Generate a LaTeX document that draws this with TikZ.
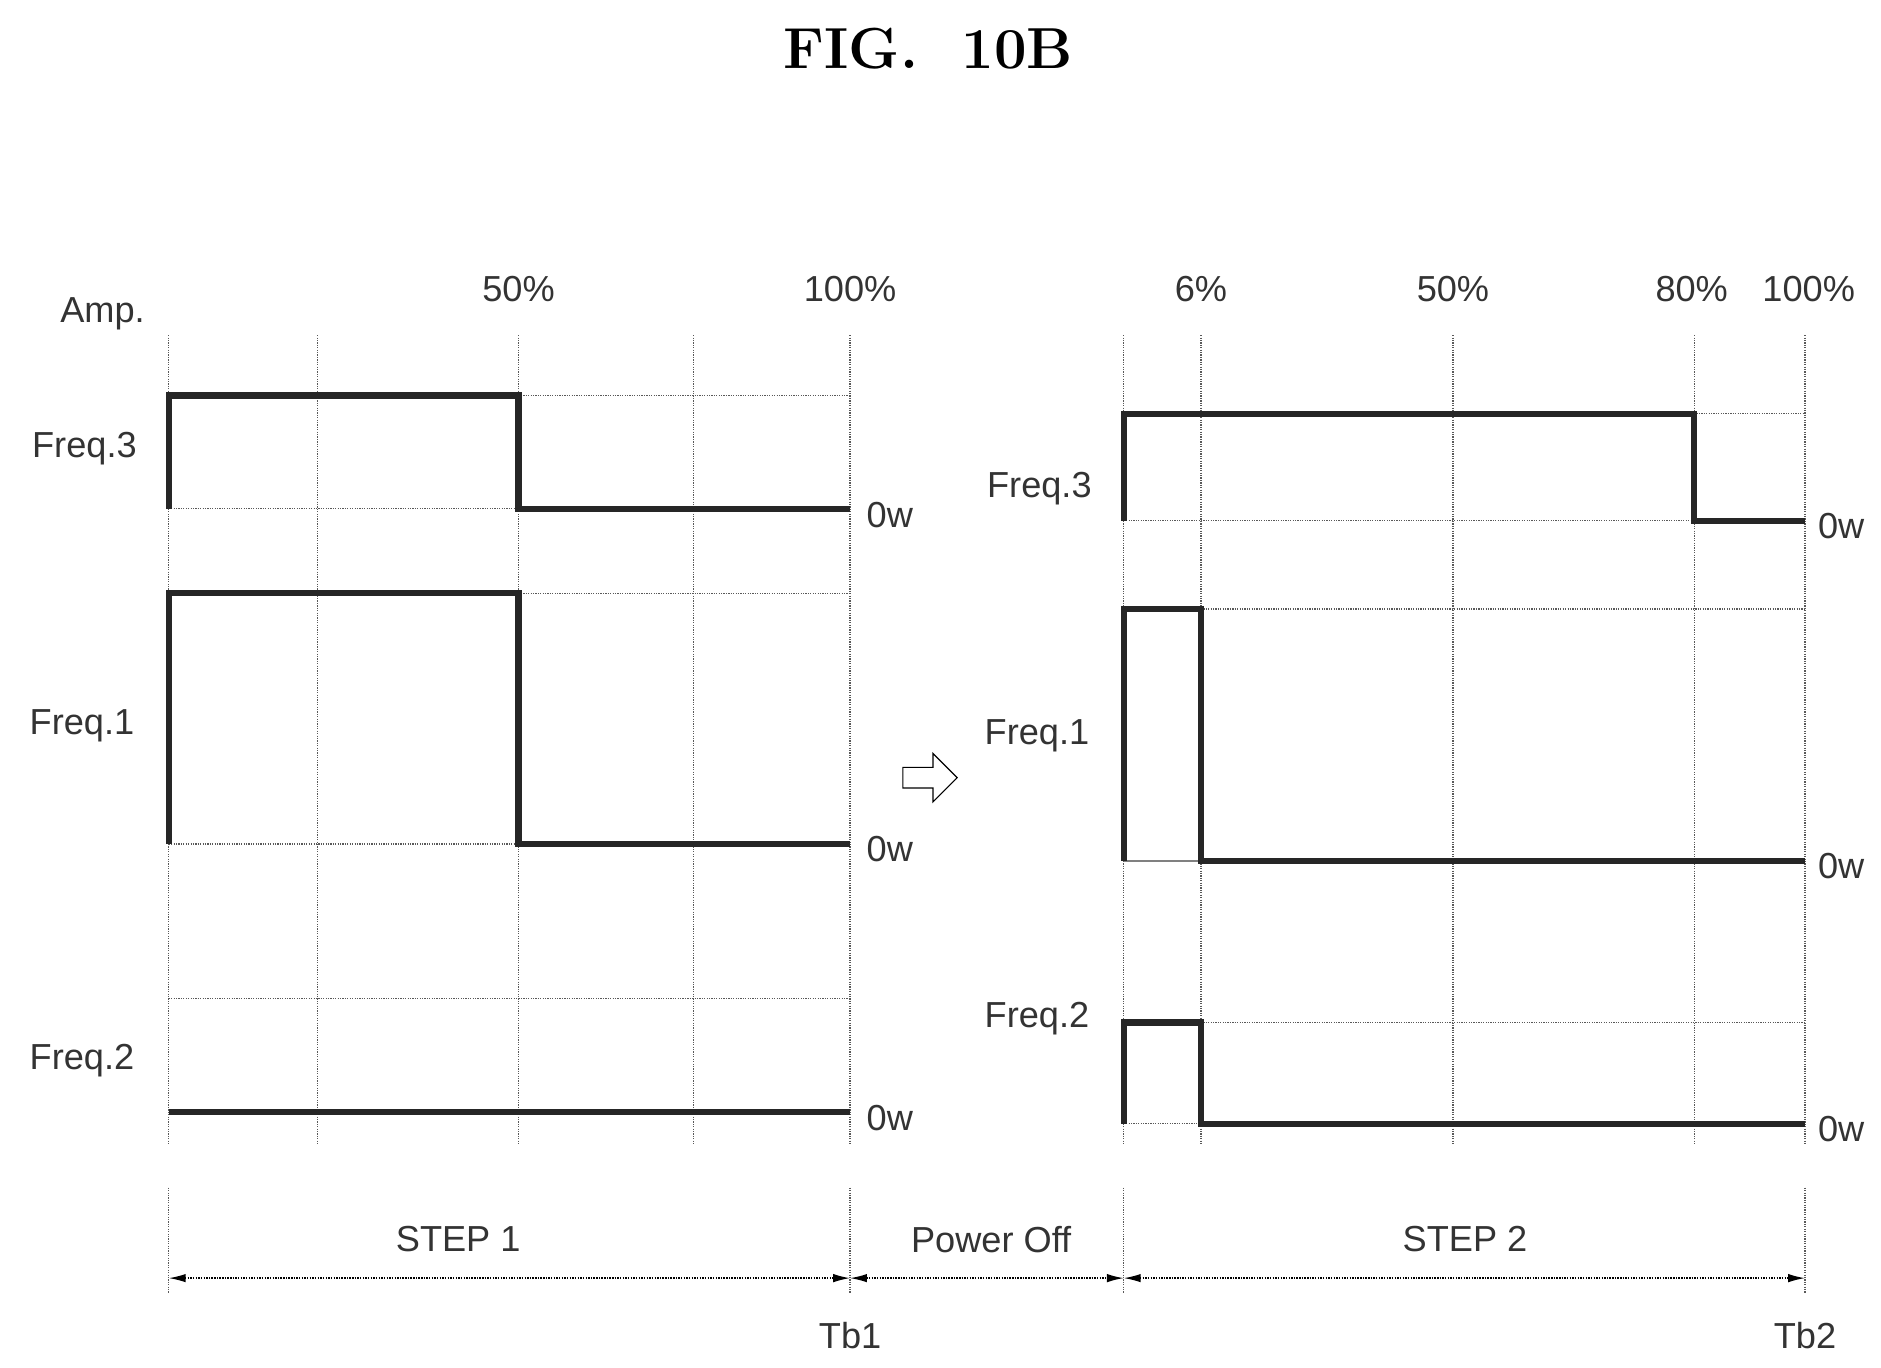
\documentclass[tikz,border=0pt]{standalone}
\usepackage{fontspec}
\setsansfont{Liberation Sans}
\usetikzlibrary{arrows.meta,shapes.arrows}
\begin{document}
\begin{tikzpicture}[x=1pt,y=-1pt,
  grid/.style={densely dotted,line width=1pt,gray!70!black},
  sig/.style={line width=5pt,black!85,line join=miter},
  lbl/.style={font=\sffamily\fontsize{30}{32}\selectfont,text=black!80},
  dim/.style={densely dotted,line width=1.2pt,{Latex[length=14pt,width=7pt]}-{Latex[length=14pt,width=7pt]}}]
\useasboundingbox (0,0) rectangle (1560,1134);
\node[font=\rmfamily\bfseries\fontsize{48}{50}\selectfont] (title) at (770,40) {FIG.\ \ 10B};
% left grid
\foreach \x in {140,263,430,575,705} \draw[grid] (\x,278) -- (\x,950);
\draw[grid] (430,328) -- (705,328);
\draw[grid] (140,422) -- (430,422);
\draw[grid] (430,492) -- (705,492);
\draw[grid] (140,700) -- (430,700);
\draw[grid] (140,828) -- (705,828);
\draw[sig] (140,422) -- (140,328) -- (430,328) -- (430,422) -- (705,422);
\draw[sig] (140,700) -- (140,492) -- (430,492) -- (430,700) -- (705,700);
\draw[sig] (140,922) -- (705,922);
% right grid
\foreach \x in {932,996,1205,1405,1497} \draw[grid] (\x,278) -- (\x,950);
\draw[grid] (1405,343) -- (1497,343);
\draw[grid] (932,432) -- (1405,432);
\draw[grid] (996,505) -- (1497,505);
\draw[line width=1pt,gray] (932,714) -- (996,714);
\draw[grid] (996,848) -- (1497,848);
\draw[grid] (932,932) -- (996,932);
\draw[sig] (932,432) -- (932,343) -- (1405,343) -- (1405,432) -- (1497,432);
\draw[sig] (932,714) -- (932,505) -- (996,505) -- (996,714) -- (1497,714);
\draw[sig] (932,932) -- (932,848) -- (996,848) -- (996,932) -- (1497,932);
% labels
\node[lbl] (amp) at (85,260) {Amp.};
\node[lbl] (p50a) at (430,240) {50\%};
\node[lbl] (p100a) at (705,240) {100\%};
\node[lbl] (p6) at (996,240) {6\%};
\node[lbl] (p50b) at (1205,240) {50\%};
\node[lbl] (p80) at (1403,240) {80\%};
\node[lbl] (p100b) at (1500,240) {100\%};
\node[lbl] (f3a) at (70,372) {Freq.3};
\node[lbl] (f1a) at (68,602) {Freq.1};
\node[lbl] (f2a) at (68,880) {Freq.2};
\node[lbl] (f3b) at (862,405) {Freq.3};
\node[lbl] (f1b) at (860,610) {Freq.1};
\node[lbl] (f2b) at (860,845) {Freq.2};
\foreach \y/\n in {427/a,704/b,927/c} \node[lbl] (w\n) at (738,\y) {0w};
\foreach \y/\n in {436/d,718/e,936/f} \node[lbl] (w\n) at (1527,\y) {0w};
% arrow
\node[single arrow,draw,line width=1pt,minimum height=45pt,minimum width=40pt,single arrow head extend=6pt,inner sep=4pt] (arr) at (767,645) {};
% bottom
\foreach \x/\n in {140/a,705/b,932/c,1497/d} {
  \coordinate (t\n) at (\x,985); \coordinate (b\n) at (\x,1060);
  \draw[grid] (t\n) -- (\x,1072);}
\draw[dim] (ba) -- (bb);
\draw[dim] (bb) -- (bc);
\draw[dim] (bc) -- (bd);
\node[lbl] (s1) at (380,1028) {STEP 1};
\node[lbl] (po) at (822,1028) {Power Off};
\node[lbl] (s2) at (1215,1028) {STEP 2};
\node[lbl] (tb1) at (705,1108) {Tb1};
\node[lbl] (tb2) at (1497,1108) {Tb2};
\end{tikzpicture}
\end{document}
